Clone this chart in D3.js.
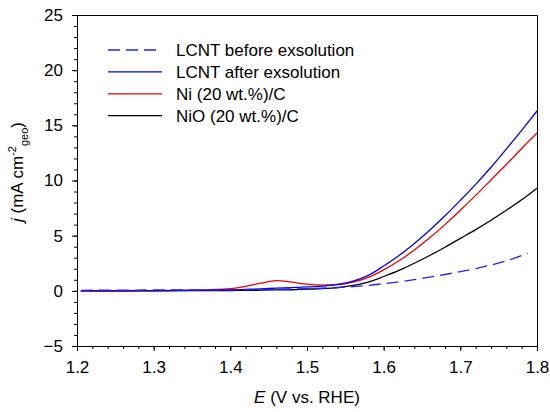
<!DOCTYPE html>
<html>
<head>
<meta charset="utf-8">
<script src="https://cdn.jsdelivr.net/npm/d3@7"></script>
<style>
	body { margin: 0; background: #fff; }
	text { font-family: Arial, "Liberation Sans", sans-serif; fill: #000; }
</style>
</head>
<body>
<div id="visHolder"></div>
<script>
// potentials (V vs. RHE)
const potentialsAfter = [1.205, 1.25, 1.3, 1.35, 1.4, 1.42, 1.44, 1.46, 1.48, 1.5, 1.52, 1.54, 1.56, 1.58, 1.6, 1.62, 1.64, 1.66, 1.68, 1.7, 1.72, 1.74, 1.76, 1.78, 1.8];
const lcntAfter = [0, 0, 0.02, 0.04, 0.08, 0.13, 0.18, 0.24, 0.29, 0.35, 0.42, 0.58, 0.88, 1.4, 2.25, 3.2, 4.3, 5.5, 6.8, 8.2, 9.65, 11.2, 12.85, 14.55, 16.3];
const niC = [0, 0, 0.02, 0.06, 0.2, 0.4, 0.7, 0.92, 0.78, 0.6, 0.52, 0.56, 0.78, 1.22, 1.9, 2.72, 3.7, 4.8, 6.0, 7.3, 8.65, 10.05, 11.45, 12.9, 14.3];
const nioC = [0, 0, 0, 0.01, 0.03, 0.04, 0.06, 0.08, 0.1, 0.15, 0.2, 0.3, 0.5, 0.8, 1.3, 1.85, 2.5, 3.2, 3.95, 4.75, 5.55, 6.4, 7.3, 8.25, 9.3];

const potentialsBefore = [1.205, 1.3, 1.4, 1.45, 1.5, 1.54, 1.58, 1.6, 1.62, 1.64, 1.66, 1.68, 1.7, 1.72, 1.74, 1.76, 1.788];
const lcntBefore = [0.05, 0.08, 0.1, 0.13, 0.2, 0.3, 0.5, 0.65, 0.82, 1.02, 1.24, 1.48, 1.74, 2.02, 2.34, 2.72, 3.4];

const xTicks = [1.2, 1.3, 1.4, 1.5, 1.6, 1.7, 1.8];
const yTicks = [-5, 0, 5, 10, 15, 20, 25];

const series = [
	{ name: "LCNT before exsolution", x: potentialsBefore, y: lcntBefore, color: "#2222ff", dash: "12,6" },
	{ name: "LCNT after exsolution", x: potentialsAfter, y: lcntAfter, color: "#0000ee", dash: null },
	{ name: "Ni (20 wt.%)/C", x: potentialsAfter, y: niC, color: "#ee0000", dash: null },
	{ name: "NiO (20 wt.%)/C", x: potentialsAfter, y: nioC, color: "#000000", dash: null },
];

const width = 550;
const height = 412;
const margin = { top: 15, right: 13, bottom: 66, left: 77 };

const svg = d3
	.select("#visHolder")
	.append("svg")
	.attr("width", width)
	.attr("height", height);

const xScale = d3
	.scaleLinear()
	.domain([1.2, 1.8])
	.range([margin.left, width - margin.right]);

const yScale = d3
	.scaleLinear()
	.domain([-5, 25])
	.range([height - margin.bottom, margin.top]);

drawAxes();
drawLines();
drawLegend();
drawTitles();

function drawAxes() {
	const fontSize = "17px";

	// minor ticks
	svg
		.append("g")
		.attr("transform", `translate(0,${height - margin.bottom})`)
		.call(d3.axisBottom(xScale).tickValues(d3.range(1.2, 1.801, 0.02)).tickSize(3).tickFormat(""))
		.call((g) => g.select(".domain").remove());
	svg
		.append("g")
		.attr("transform", `translate(${margin.left},0)`)
		.call(d3.axisLeft(yScale).tickValues(d3.range(-5, 25.01, 1)).tickSize(3).tickFormat(""))
		.call((g) => g.select(".domain").remove());

	// major ticks
	const xAxis = svg
		.append("g")
		.attr("transform", `translate(0,${height - margin.bottom})`)
		.call(d3.axisBottom(xScale).tickValues(xTicks).tickSize(5).tickSizeOuter(0).tickPadding(10).tickFormat(d3.format(".1f")));
	xAxis.selectAll("text").style("font-size", fontSize);

	const yAxis = svg
		.append("g")
		.attr("transform", `translate(${margin.left},0)`)
		.call(d3.axisLeft(yScale).tickValues(yTicks).tickSize(5).tickSizeOuter(0).tickPadding(9));
	yAxis.selectAll("text").style("font-size", fontSize);

	// top and right frame lines
	svg
		.append("path")
		.attr("fill", "none")
		.attr("stroke", "#000")
		.attr("d", `M${xScale(1.2)},${yScale(25) + 0.5}H${xScale(1.8) + 0.5}V${yScale(-5)}`);
}

function drawLines() {
	const line = d3.line().curve(d3.curveMonotoneX);
	const plot = svg.append("g").attr("id", "curves");
	plot
		.selectAll("path")
		.data(series.slice().reverse())
		.join("path")
		.attr("fill", "none")
		.attr("stroke", (d) => d.color)
		.attr("stroke-width", 1.3)
		.attr("stroke-dasharray", (d) => d.dash)
		.attr("d", (d) => line(d.x.map((v, i) => [xScale(v), yScale(d.y[i])])));
}

function drawLegend() {
	const legend = svg.append("g").attr("id", "legend").attr("transform", "translate(108,50)");
	const rows = legend
		.selectAll("g")
		.data(series)
		.join("g")
		.attr("transform", (_d, i) => `translate(0,${i * 21.9})`);
	rows
		.append("line")
		.attr("x1", 0)
		.attr("x2", 54)
		.attr("stroke", (d) => d.color)
		.attr("stroke-width", 1.3)
		.attr("stroke-dasharray", (d) => d.dash);
	rows
		.append("text")
		.attr("x", 68)
		.attr("y", 6)
		.style("font-size", "17px")
		.text((d) => d.name);
}

function drawTitles() {
	const xTitle = svg
		.append("text")
		.attr("x", (margin.left + width - margin.right) / 2)
		.attr("y", 403)
		.attr("text-anchor", "middle")
		.style("font-size", "17px");
	xTitle.append("tspan").style("font-style", "italic").text("E");
	xTitle.append("tspan").text(" (V vs. RHE)");

	const yTitle = svg
		.append("text")
		.attr("transform", "translate(23,172) rotate(-90)")
		.attr("text-anchor", "middle")
		.style("font-size", "17px");
	yTitle.append("tspan").style("font-style", "italic").text("j");
	yTitle.append("tspan").text(" (mA cm");
	yTitle.append("tspan").attr("dy", -7).style("font-size", "11px").text("-2");
	yTitle.append("tspan").attr("dy", 12).style("font-size", "11px").text("geo");
	yTitle.append("tspan").attr("dy", -5).text(")");
}
</script>
</body>
</html>
